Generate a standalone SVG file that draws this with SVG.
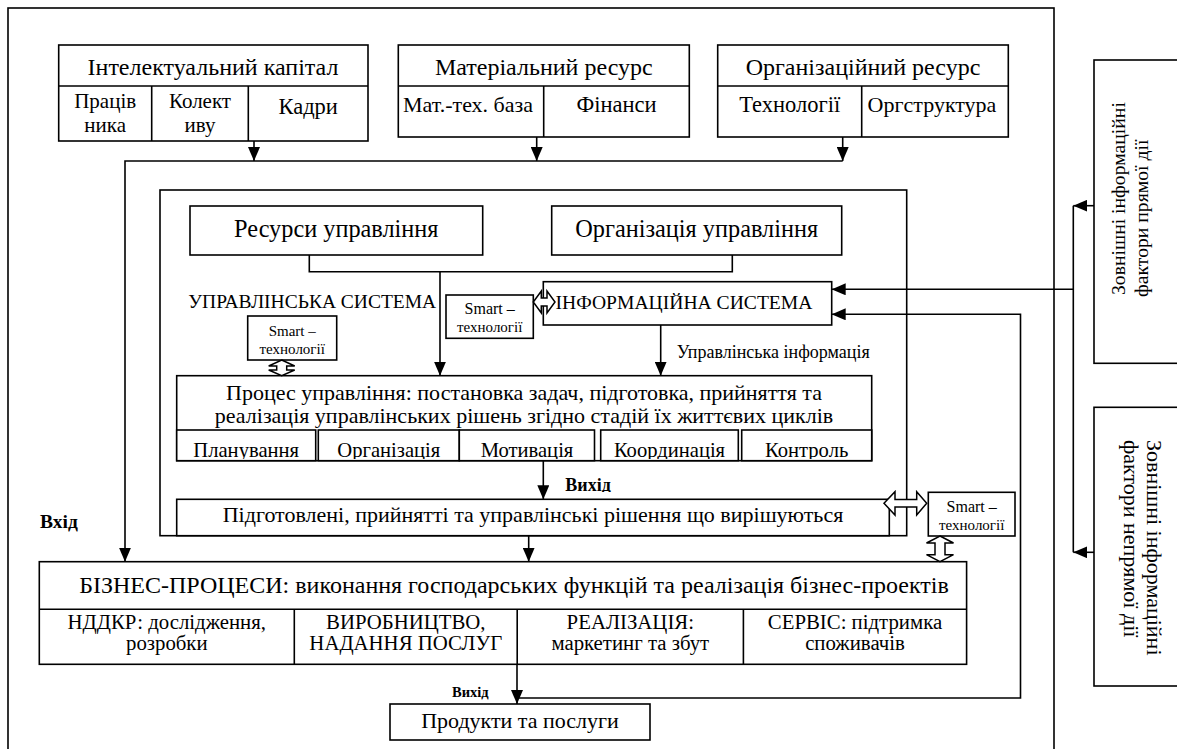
<svg xmlns="http://www.w3.org/2000/svg" width="1177" height="749" viewBox="0 0 1177 749" font-family="'Liberation Serif', 'DejaVu Serif', serif">
<style>
text{font-family:"Liberation Serif","DejaVu Serif",serif;fill:#000}
.box{fill:#fff;stroke:#000;stroke-width:1.6}
.ln{fill:none;stroke:#000;stroke-width:1.6}
.hol{fill:#fff;stroke:#000;stroke-width:1.5}
.c{text-anchor:middle}
.b{font-weight:bold}
</style>
<defs>
<marker id="ah" markerUnits="userSpaceOnUse" markerWidth="14" markerHeight="12" refX="14" refY="6" orient="auto">
<path d="M0,0 L14,6 L0,12 z" fill="#000"/>
</marker>
<clipPath id="cellclip"><rect x="170" y="425" width="710" height="34"/></clipPath>
<clipPath id="outclip"><rect x="550" y="470" width="80" height="22"/></clipPath>
</defs>

<g id="frame-outer"><rect class="box" x="8" y="8" width="1046" height="770"/></g>

<g id="intellectual-capital">
<rect class="box" x="58.7" y="45" width="309.3" height="96"/>
<path class="ln" d="M58.7,86 H368 M151.7,86 V141 M248.3,86 V141"/>
<text class="c" x="213" y="75" font-size="24">Інтелектуальний капітал</text>
<text class="c" x="105.2" y="108" font-size="21">Праців</text>
<text class="c" x="105.2" y="132" font-size="21">ника</text>
<text class="c" x="200" y="108" font-size="21">Колект</text>
<text class="c" x="200" y="132" font-size="21">иву</text>
<text class="c" x="308.2" y="114" font-size="22.5">Кадри</text>
</g>

<g id="material-resource">
<rect class="box" x="398.3" y="45" width="291" height="92"/>
<path class="ln" d="M398.3,86 H689.3 M543.7,86 V137"/>
<text class="c" x="543.8" y="75" font-size="24">Матеріальний ресурс</text>
<text class="c" x="468" y="112" font-size="22">Мат.-тех. база</text>
<text class="c" x="616.5" y="112" font-size="22.5">Фінанси</text>
</g>

<g id="org-resource">
<rect class="box" x="717.7" y="45" width="290.6" height="92"/>
<path class="ln" d="M717.7,86 H1008.3 M861.7,86 V137"/>
<text class="c" x="863" y="75" font-size="24">Організаційний ресурс</text>
<text class="c" x="789.7" y="112" font-size="22.5">Технології</text>
<text class="c" x="932" y="112" font-size="22">Оргструктура</text>
</g>

<g id="management-system">
<rect class="box" x="160" y="190" width="746.7" height="345.7"/>
<text x="188.3" y="308" font-size="19.5">УПРАВЛІНСЬКА СИСТЕМА</text>
</g>

<g id="resources-mgmt">
<rect class="box" x="190" y="206" width="292.7" height="49"/>
<text class="c" x="336.3" y="237" font-size="24.3">Ресурси управління</text>
</g>

<g id="org-mgmt">
<rect class="box" x="551.7" y="206" width="290" height="49"/>
<text class="c" x="696.7" y="237" font-size="24.3">Організація управління</text>
</g>

<g id="smart-1">
<rect class="box" x="446" y="295" width="87.3" height="43.3"/>
<text class="c" x="489.7" y="314" font-size="16">Smart –</text>
<text class="c" x="489.7" y="332" font-size="15">технології</text>
</g>

<g id="info-system">
<rect class="box" x="543.3" y="281.7" width="288.4" height="43.3"/>
<text class="c" x="684" y="309" font-size="19.6">ІНФОРМАЦІЙНА СИСТЕМА</text>
</g>

<g id="smart-2">
<rect class="box" x="247.7" y="316" width="89" height="44"/>
<text class="c" x="292.2" y="336" font-size="15">Smart –</text>
<text class="c" x="292.2" y="354" font-size="15">технології</text>
</g>

<g id="mgmt-info-label">
<text x="676.7" y="358" font-size="18">Управлінська інформація</text>
</g>

<g id="mgmt-process">
<rect class="box" x="176.7" y="375.7" width="695" height="85"/>
<text class="c" x="524" y="399.5" font-size="22">Процес управління: постановка задач, підготовка, прийняття та</text>
<text class="c" x="524" y="422.7" font-size="22">реалізація управлінських рішень згідно стадій їх життєвих циклів</text>
<rect class="box" x="176.7" y="430" width="139" height="30.7"/>
<rect class="box" x="318.3" y="430" width="141" height="30.7"/>
<rect class="box" x="459.3" y="430" width="135.2" height="30.7"/>
<rect class="box" x="600.7" y="430" width="137.6" height="30.7"/>
<rect class="box" x="741.7" y="430" width="130" height="30.7"/>
<g clip-path="url(#cellclip)" font-size="20.6">
<text class="c" x="246.2" y="457">Планування</text>
<text class="c" x="388.8" y="457">Організація</text>
<text class="c" x="527" y="457">Мотивація</text>
<text class="c" x="669.5" y="457">Координація</text>
<text class="c" x="806.7" y="457">Контроль</text>
</g>
</g>

<g id="output-label-1">
<text class="c b" x="588" y="491" font-size="18" clip-path="url(#outclip)">Вихід</text>
</g>

<g id="decisions">
<rect class="box" x="176.7" y="499.3" width="712.6" height="36.4"/>
<text class="c" x="533" y="522" font-size="22">Підготовлені, прийнятті та управлінські рішення що вирішуються</text>
</g>

<g id="smart-3">
<rect class="box" x="928.3" y="492.3" width="86.7" height="43.7"/>
<text class="c" x="971.7" y="512" font-size="16">Smart –</text>
<text class="c" x="971.7" y="530" font-size="15">технології</text>
</g>

<g id="input-label">
<text class="b" x="40" y="528" font-size="19.5">Вхід</text>
</g>

<g id="business-processes">
<rect class="box" x="39.3" y="561.7" width="927.3" height="102.6"/>
<path class="ln" d="M39.3,609.3 H966.6 M294.3,609.3 V664.3 M517.2,609.3 V664.3 M743.4,609.3 V664.3"/>
<text class="c" x="514" y="593" font-size="24">БІЗНЕС-ПРОЦЕСИ: виконання господарських функцій та реалізація бізнес-проектів</text>
<text class="c" x="166.8" y="628.5" font-size="20.8">НДДКР: дослідження,</text>
<text class="c" x="166.8" y="650" font-size="20.8">розробки</text>
<text class="c" x="405.8" y="628.5" font-size="20.8">ВИРОБНИЦТВО,</text>
<text class="c" x="405.8" y="650" font-size="20.8">НАДАННЯ ПОСЛУГ</text>
<text class="c" x="630.3" y="628.5" font-size="20.8">РЕАЛІЗАЦІЯ:</text>
<text class="c" x="630.3" y="650" font-size="20.8">маркетинг та збут</text>
<text class="c" x="855" y="628.5" font-size="20.8">СЕРВІС: підтримка</text>
<text class="c" x="855" y="650" font-size="20.8">споживачів</text>
</g>

<g id="output-label-2">
<text class="b" x="452" y="697" font-size="14.5">Вихід</text>
</g>

<g id="products">
<rect class="box" x="390" y="704" width="260" height="36"/>
<text class="c" x="520" y="728" font-size="22">Продукти та послуги</text>
</g>

<g id="ext-direct">
<rect class="box" x="1094" y="60" width="100" height="303.3"/>
<text transform="translate(1125,295) rotate(-90)" font-size="19.7">Зовнішні інформаційні</text>
<text transform="translate(1148,297) rotate(-90)" font-size="19.7">фактори прямої дії</text>
</g>

<g id="ext-indirect">
<rect class="box" x="1094" y="407.3" width="100" height="278.7"/>
<text transform="translate(1147,440) rotate(90)" font-size="22">Зовнішні інформаційні</text>
<text transform="translate(1124,440) rotate(90)" font-size="22">фактори непрямої дії</text>
</g>

<g id="connectors">
<path class="ln" d="M254,141 V161" marker-end="url(#ah)"/>
<path class="ln" d="M536.7,137 V161" marker-end="url(#ah)"/>
<path class="ln" d="M842.7,137 V161" marker-end="url(#ah)"/>
<path class="ln" d="M842.7,161 H125 V561.7" marker-end="url(#ah)"/>
<path class="ln" d="M309.3,255 V271.7 H732.3 V255"/>
<path class="ln" d="M440,271.7 V375.7" marker-end="url(#ah)"/>
<path class="ln" d="M660.7,325 V375.7" marker-end="url(#ah)"/>
<path class="ln" d="M543.3,460.7 V499.3" marker-end="url(#ah)"/>
<path class="ln" d="M528.7,535.7 V561.7" marker-end="url(#ah)"/>
<path class="ln" d="M517,664.3 V704" marker-end="url(#ah)"/>
<path class="ln" d="M517,698 H1020.5 V314.3 H831.7" marker-end="url(#ah)"/>
<path class="ln" d="M1073.3,289.3 H831.7" marker-end="url(#ah)"/>
<path class="ln" d="M1073.3,205.7 V552.3"/>
<path class="ln" d="M1094,205.7 H1073.3" marker-end="url(#ah)"/>
<path class="ln" d="M1094,552.3 H1073.3" marker-end="url(#ah)"/>
<polygon class="hol" points="533.3,302 541.3,291 541.3,298 547,298 547,291 555,302 547,313 547,306 541.3,306 541.3,313"/>
<polygon class="hol" points="281.7,360 294.7,366 286.7,366 286.7,370 294.7,370 281.7,375.7 268.7,370 276.7,370 276.7,366 268.7,366"/>
<polygon class="hol" points="884,503.3 895,491.7 895,499.6 916.7,499.6 916.7,491.7 926.7,503.3 916.7,515 916.7,507 895,507 895,515"/>
<polygon class="hol" points="940,536 953.5,543 945,543 945,554.7 953.5,554.7 940,561.7 926.5,554.7 935,554.7 935,543 926.5,543"/>
</g>
</svg>
